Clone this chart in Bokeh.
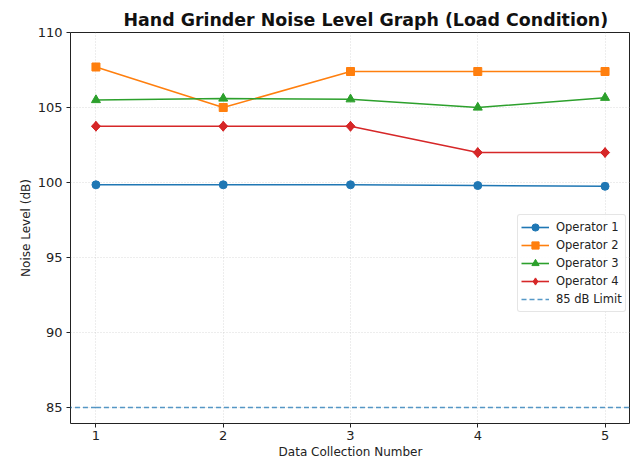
import math
from bokeh.plotting import figure
from bokeh.models import Range1d, FixedTicker, Legend, LegendItem
from bokeh.embed import file_html
from bokeh.resources import INLINE

collections = [1, 2, 3, 4, 5]
operator_1 = [99.85, 99.85, 99.85, 99.8, 99.75]
operator_2 = [107.7, 105.0, 107.4, 107.4, 107.4]
operator_3 = [105.5, 105.6, 105.55, 105.0, 105.65]
operator_4 = [103.75, 103.75, 103.75, 102.0, 102.0]
limit_db = 85
series_names = ["Operator 1", "Operator 2", "Operator 3", "Operator 4"]
limit_name = "85 dB Limit"
y_ticks = [85, 90, 95, 100, 105, 110]

FONT = "DejaVu Sans"
colors = ["#1f77b4", "#ff7f0e", "#2ca02c", "#d62728"]
markers = ["circle", "square", "triangle", "diamond"]
msizes = [8, 8, 9, 10]

p = figure(width=630, height=461, output_backend="svg", toolbar_location=None,
           x_range=Range1d(0.8, 5.2), y_range=Range1d(83.94, 110),
           min_border_left=70, min_border_right=0, min_border_top=32, min_border_bottom=35)

p.title.text = "Hand Grinder Noise Level Graph (Load Condition)"
p.title.text_font = FONT
p.title.text_font_size = "17.4px"
p.title.text_font_style = "bold"
p.title.text_color = "#111111"
p.title.align = "left"
p.title.offset = 53
p.title.standoff = 6

p.outline_line_color = "#222222"
p.outline_line_width = 1
p.background_fill_color = "white"
p.border_fill_color = "white"

for ax in (p.xaxis, p.yaxis):
    ax.axis_line_color = None
    ax.major_tick_line_color = "#222222"
    ax.major_tick_out = 4
    ax.major_tick_in = 0
    ax.minor_tick_line_color = None
    ax.major_label_text_font = FONT
    ax.major_label_text_font_size = "13px"
    ax.major_label_text_color = "#222222"
    ax.axis_label_text_font = FONT
    ax.axis_label_text_font_size = "12px"
    ax.axis_label_text_font_style = "normal"
    ax.axis_label_text_color = "#222222"

p.xaxis.ticker = FixedTicker(ticks=collections)
p.yaxis.ticker = FixedTicker(ticks=y_ticks)
p.xaxis.axis_label = "Data Collection Number"
p.yaxis.axis_label = "Noise Level (dB)"
p.xaxis.major_label_standoff = 3
p.yaxis.major_label_standoff = 4
p.xaxis.axis_label_standoff = 2
p.yaxis.axis_label_standoff = 2

p.grid.grid_line_color = "#b0b0b0"
p.grid.grid_line_alpha = 0.6
p.grid.grid_line_dash = "1 2"
p.grid.grid_line_width = 0.8

items = []
for name, vals, c, m, s in zip(series_names, [operator_1, operator_2, operator_3, operator_4],
                               colors, markers, msizes):
    r1 = p.line(collections, vals, line_color=c, line_width=1.6)
    r2 = p.scatter(collections, vals, marker=m, size=s, fill_color=c, line_color=c)
    if m == "diamond":
        # matplotlib-style square diamond drawn over the narrower bokeh diamond
        p.scatter(collections, vals, marker="square", size=6.5, angle=math.pi / 4,
                  fill_color=c, line_color=c)
    items.append(LegendItem(label=name, renderers=[r1, r2]))

# 85 dB limit: two rays from the first collection point, extending across the plot
rl = p.ray(x=[collections[0], collections[0]], y=[limit_db, limit_db], angle=[0, math.pi], length=0,
           line_color="#1f77b4", line_alpha=0.75, line_dash="5 3", line_width=1.5)
items.append(LegendItem(label=limit_name, renderers=[rl]))

legend = Legend(items=items, location=(447, 111))
legend.label_text_font = FONT
legend.label_text_font_size = "11.5px"
legend.label_text_color = "#222222"
legend.border_line_color = "#cccccc"
legend.border_line_width = 1
legend.border_radius = 3
legend.background_fill_alpha = 0.85
legend.glyph_width = 28
legend.glyph_height = 18
legend.label_height = 18
legend.spacing = 0
legend.padding = 3
legend.margin = 0
legend.label_standoff = 7
p.add_layout(legend, "center")

open("out.html", "w").write(file_html(p, INLINE))
